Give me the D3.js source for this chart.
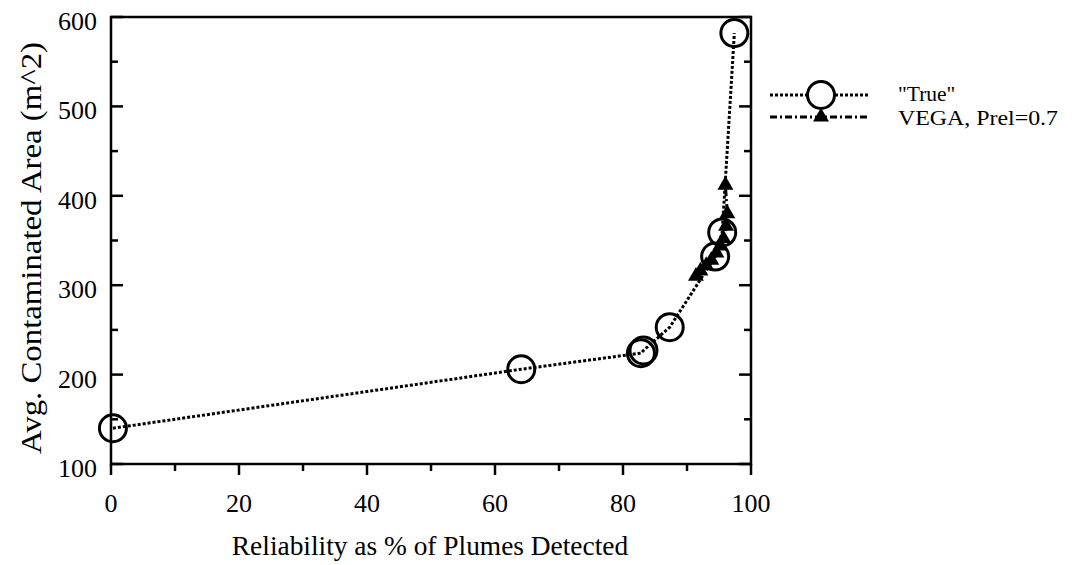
<!DOCTYPE html>
<html>
<head>
<meta charset="utf-8">
<script src="https://cdn.jsdelivr.net/npm/d3@7"></script>
<style>
  body { margin: 0; background: #fff; }
  svg text { font-family: "Liberation Serif", "DejaVu Serif", serif; fill: #000; }
</style>
</head>
<body>
<svg id="chart" width="1085" height="565"></svg>
<script>
// "True" series (circles)
const trueX = [0.3, 64.1, 82.8, 83.2, 87.3, 94.4, 95.5, 97.4];
const trueY = [140, 206, 224, 227, 253, 332, 359, 582];
// VEGA, Prel=0.7 (triangles)
const vegaX = [91.4, 92.1, 93.0, 93.8, 94.6, 95.2, 95.7, 96.1, 96.3, 96.0];
const vegaY = [310, 316, 322, 328, 336, 344, 352, 366, 380, 412];

const xTicks = [0, 20, 40, 60, 80, 100];
const yTicks = [100, 200, 300, 400, 500, 600];

const legendLabels = ['"True"', 'VEGA, Prel=0.7'];

const svg = d3.select('#chart');
const margin = {left: 111, right: 334, top: 17, bottom: 101};
const width = 1085 - margin.left - margin.right;
const height = 565 - margin.top - margin.bottom;

const x = d3.scaleLinear().domain([0, 100]).range([0, width]);
const y = d3.scaleLinear().domain([100, 600]).range([height, 0]);

const g = svg.append('g').attr('transform', `translate(${margin.left},${margin.top})`);

// frame
g.append('rect')
  .attr('width', width).attr('height', height)
  .attr('fill', 'none').attr('stroke', '#000').attr('stroke-width', 2.5);

// x ticks (outward)
const xMinor = d3.range(10, 100, 20);
g.selectAll('.xt').data(xTicks.concat(xMinor)).enter().append('line')
  .attr('x1', d => x(d)).attr('x2', d => x(d))
  .attr('y1', height).attr('y2', d => height + (d % 20 === 0 ? 11 : 7))
  .attr('stroke', '#000').attr('stroke-width', 2.5);

g.selectAll('.xl').data(xTicks).enter().append('text')
  .attr('x', d => x(d)).attr('y', height + 48)
  .attr('text-anchor', 'middle').attr('font-size', 26)
  .text(d => d);

// y ticks (inward on both sides)
const yMinor = d3.range(150, 600, 100);
const yAll = yTicks.concat(yMinor);
g.selectAll('.ytl').data(yAll).enter().append('line')
  .attr('x1', 0).attr('x2', d => (d % 100 === 0 ? 12 : 7))
  .attr('y1', d => y(d)).attr('y2', d => y(d))
  .attr('stroke', '#000').attr('stroke-width', 2.5);
g.selectAll('.ytr').data(yAll).enter().append('line')
  .attr('x1', width).attr('x2', d => width - (d % 100 === 0 ? 12 : 7))
  .attr('y1', d => y(d)).attr('y2', d => y(d))
  .attr('stroke', '#000').attr('stroke-width', 2.5);

g.selectAll('.yl').data(yTicks).enter().append('text')
  .attr('x', -14).attr('y', d => y(d) + 13)
  .attr('text-anchor', 'end').attr('font-size', 26)
  .text(d => d);

// axis titles
svg.append('text')
  .attr('x', 430).attr('y', 555)
  .attr('text-anchor', 'middle').attr('font-size', 27.4)
  .text('Reliability as % of Plumes Detected');
svg.append('text')
  .attr('transform', 'translate(41,248) rotate(-90)')
  .attr('text-anchor', 'middle').attr('font-size', 29)
  .attr('textLength', 412).attr('lengthAdjust', 'spacingAndGlyphs')
  .text('Avg. Contaminated Area (m^2)');

// data
const trueData = trueX.map((v, i) => ({x: v, y: trueY[i]}));
const vegaData = vegaX.map((v, i) => ({x: v, y: vegaY[i]}));
const line = d3.line().x(d => x(d.x)).y(d => y(d.y));

g.append('path').datum(vegaData)
  .attr('d', line).attr('fill', 'none').attr('stroke', '#000')
  .attr('stroke-width', 3).attr('stroke-dasharray', '7,3,2,3');

g.append('path').datum(trueData)
  .attr('d', line).attr('fill', 'none').attr('stroke', '#000')
  .attr('stroke-width', 3).attr('stroke-dasharray', '3,2');

const tri = d3.symbol().type(d3.symbolTriangle).size(110);
g.selectAll('.tri').data(vegaData).enter().append('path')
  .attr('d', tri)
  .attr('transform', d => `translate(${x(d.x)},${y(d.y)})`)
  .attr('fill', '#000');

g.selectAll('.circ').data(trueData).enter().append('circle')
  .attr('cx', d => x(d.x)).attr('cy', d => y(d.y)).attr('r', 13.5)
  .attr('fill', 'none').attr('stroke', '#000').attr('stroke-width', 3);

// legend
const lg = svg.append('g').attr('transform', 'translate(770,95)');
lg.append('line').attr('x1', 0).attr('x2', 98).attr('y1', 0).attr('y2', 0)
  .attr('stroke', '#000').attr('stroke-width', 3).attr('stroke-dasharray', '3,2');
lg.append('circle').attr('cx', 51).attr('cy', 0).attr('r', 13.5)
  .attr('fill', '#fff').attr('stroke', '#000').attr('stroke-width', 3);
lg.append('line').attr('x1', 0).attr('x2', 98).attr('y1', 22).attr('y2', 22)
  .attr('stroke', '#000').attr('stroke-width', 3).attr('stroke-dasharray', '7,3,2,3');
lg.append('path').attr('d', tri).attr('transform', 'translate(51,22)').attr('fill', '#000');
lg.selectAll('.lt').data(legendLabels).enter().append('text')
  .attr('x', 128).attr('y', (d, i) => i * 24 + 6)
  .attr('font-size', 21.5)
  .each(function (d, i) {
    if (i === 1) d3.select(this).attr('textLength', 160).attr('lengthAdjust', 'spacingAndGlyphs');
  })
  .text(d => d);
</script>
</body>
</html>
